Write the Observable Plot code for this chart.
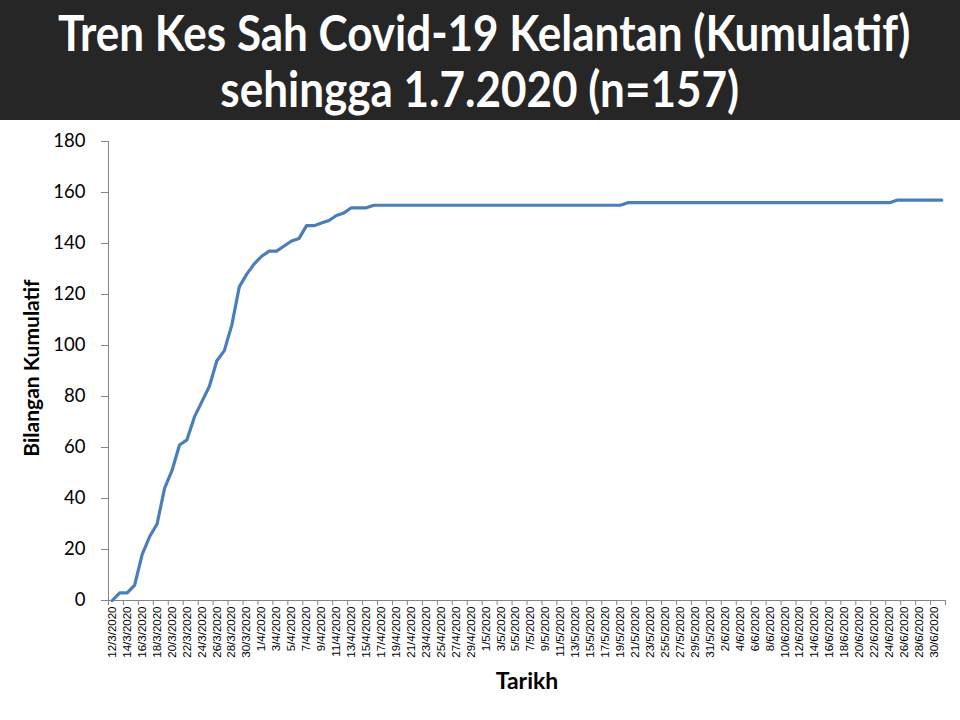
<!DOCTYPE html>
<html>
<head>
<meta charset="utf-8">
<script src="https://cdn.jsdelivr.net/npm/d3@7"></script>
<script src="https://cdn.jsdelivr.net/npm/@observablehq/plot@0.6"></script>
<style>
  html, body { margin: 0; padding: 0; background: #ffffff; }
  #wrap { width: 960px; height: 720px; overflow: hidden; }
  #header { width: 960px; height: 120px; background: #262626; color: #ffffff;
    font-family: Lato, "Open Sans", sans-serif; font-weight: 700; text-align: center; overflow: hidden; }
  #header .l { font-size: 50px; line-height: 56px; white-space: nowrap; }
  #header .l span { display: inline-block; transform: scaleX(0.88); transform-origin: center; }
  #header .l1 { padding-top: 4px; }
  #chart svg { display: block; }
</style>
</head>
<body>
<div id="wrap">
  <div id="header">
    <div class="l l1"><span>Tren Kes Sah Covid-19 Kelantan (Kumulatif)</span></div>
    <div class="l"><span>sehingga 1.7.2020 (n=157)</span></div>
  </div>
  <div id="chart"></div>
</div>
<script>
const dates = [
  "12/3/2020","13/3/2020","14/3/2020","15/3/2020","16/3/2020","17/3/2020","18/3/2020","19/3/2020","20/3/2020","21/3/2020",
  "22/3/2020","23/3/2020","24/3/2020","25/3/2020","26/3/2020","27/3/2020","28/3/2020","29/3/2020","30/3/2020","31/3/2020",
  "1/4/2020","2/4/2020","3/4/2020","4/4/2020","5/4/2020","6/4/2020","7/4/2020","8/4/2020","9/4/2020","10/4/2020",
  "11/4/2020","12/4/2020","13/4/2020","14/4/2020","15/4/2020","16/4/2020","17/4/2020","18/4/2020","19/4/2020","20/4/2020",
  "21/4/2020","22/4/2020","23/4/2020","24/4/2020","25/4/2020","26/4/2020","27/4/2020","28/4/2020","29/4/2020","30/4/2020",
  "1/5/2020","2/5/2020","3/5/2020","4/5/2020","5/5/2020","6/5/2020","7/5/2020","8/5/2020","9/5/2020","10/5/2020",
  "11/5/2020","12/5/2020","13/5/2020","14/5/2020","15/5/2020","16/5/2020","17/5/2020","18/5/2020","19/5/2020","20/5/2020",
  "21/5/2020","22/5/2020","23/5/2020","24/5/2020","25/5/2020","26/5/2020","27/5/2020","28/5/2020","29/5/2020","30/5/2020",
  "31/5/2020","1/6/2020","2/6/2020","3/6/2020","4/6/2020","5/6/2020","6/6/2020","7/6/2020","8/6/2020","9/6/2020",
  "10/6/2020","11/6/2020","12/6/2020","13/6/2020","14/6/2020","15/6/2020","16/6/2020","17/6/2020","18/6/2020","19/6/2020",
  "20/6/2020","21/6/2020","22/6/2020","23/6/2020","24/6/2020","25/6/2020","26/6/2020","27/6/2020","28/6/2020","29/6/2020",
  "30/6/2020","1/7/2020"
];
const cumulative = [
  0,3,3,6,18,25,30,44,51,61,
  63,72,78,84,94,98,108,123,128,132,
  135,137,137,139,141,142,147,147,148,149,
  151,152,154,154,154,155,155,155,155,155,
  155,155,155,155,155,155,155,155,155,155,
  155,155,155,155,155,155,155,155,155,155,
  155,155,155,155,155,155,155,155,155,156,
  156,156,156,156,156,156,156,156,156,156,
  156,156,156,156,156,156,156,156,156,156,
  156,156,156,156,156,156,156,156,156,156,
  156,156,156,156,156,157,157,157,157,157,
  157,157
];
const yTicks = [0, 20, 40, 60, 80, 100, 120, 140, 160, 180];
const yTitle = "Bilangan Kumulatif";
const xTitle = "Tarikh";

const data = cumulative.map((v, i) => ({i, v, date: dates[i]}));
const n = dates.length;
const labelIdx = dates.map((d, i) => i).filter(i => i % 2 === 0);
const boundaries = labelIdx.map(i => i - 0.5).concat([n - 0.5]);

const axisColor = "#868686";

const chart = Plot.plot({
  width: 960,
  height: 600,
  marginTop: 21,
  marginBottom: 120,
  marginLeft: 108,
  marginRight: 15,
  style: {background: "#ffffff", color: "#000000"},
  x: {type: "linear", domain: [-0.5, n - 0.5], axis: null},
  y: {domain: [0, 180], axis: null},
  marks: [
    Plot.axisX({ticks: boundaries, tickSize: 5, tickFormat: () => "", stroke: axisColor, label: null}),
    Plot.axisX({ticks: labelIdx, tickSize: 0, tickPadding: 6, tickRotate: -90,
      tickFormat: i => dates[i], fontSize: 11.5, fontFamily: "Liberation Sans, Arial, sans-serif", label: null}),
    Plot.axisY({ticks: yTicks, tickSize: 7, tickPadding: 16, stroke: axisColor,
      fontSize: 18.5, fontFamily: "Lato, sans-serif", label: null}),
    Plot.ruleY([0], {stroke: axisColor, strokeWidth: 1}),
    Plot.ruleX([-0.5], {stroke: axisColor, strokeWidth: 1}),
    Plot.line(data, {x: "i", y: "v", stroke: "#4A7EBB", strokeWidth: 3.2, strokeLinejoin: "round", strokeLinecap: "round"}),
    Plot.text([yTitle], {frameAnchor: "left", textAnchor: "middle", dx: -76, dy: -3, rotate: -90, fontSize: 21, fontWeight: "bold",
      fontFamily: "Lato, sans-serif", fill: "#000000"}),
    Plot.text([xTitle], {frameAnchor: "bottom", dy: 88, fontSize: 23, fontWeight: "bold",
      fontFamily: "Lato, sans-serif", fill: "#000000"})
  ]
});
document.getElementById("chart").appendChild(chart);
</script>
</body>
</html>
